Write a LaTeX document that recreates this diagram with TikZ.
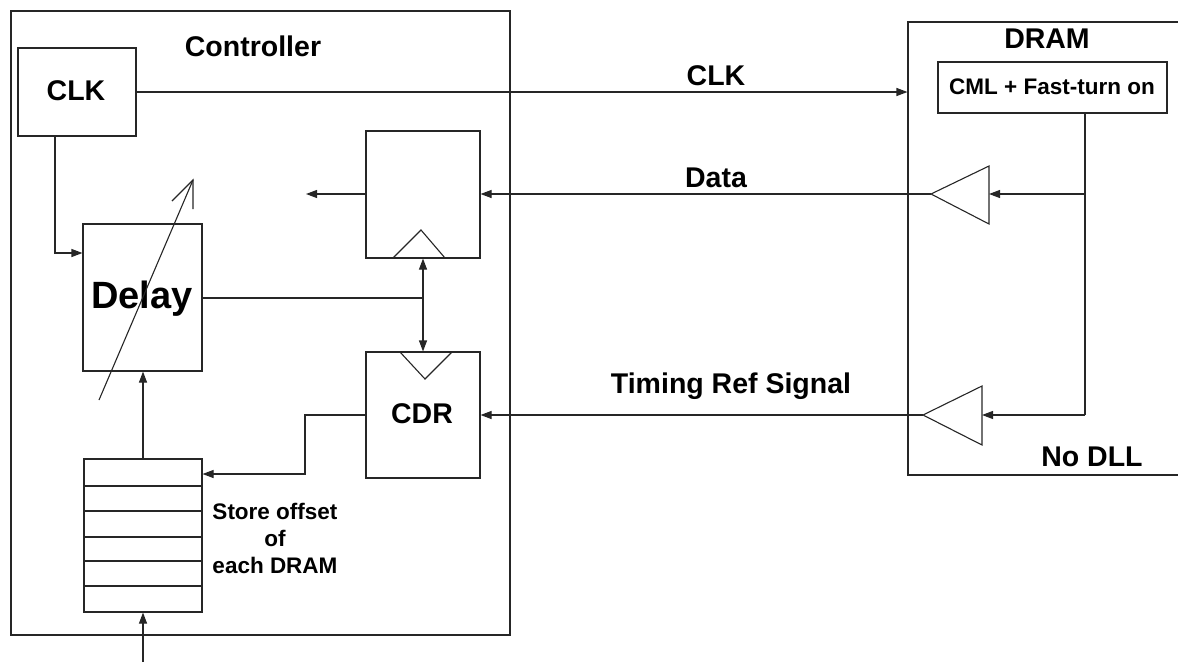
\documentclass[tikz,border=0pt]{standalone}
\usepackage{fontspec}
\setmainfont{Liberation Sans}
\usetikzlibrary{arrows.meta,calc}
\begin{document}
\begin{tikzpicture}[x=1pt,y=-1pt,
  line width=1.1pt, color=black!85,
  blk/.style={draw, rectangle, inner sep=0pt},
  wire/.style={draw},
  arr/.style={draw, -{Triangle[length=11pt,width=8pt]}},
  big/.style={font=\fontsize{28.5}{32}\selectfont\bfseries, text=black, inner sep=0pt, anchor=base},
  mid/.style={font=\fontsize{22.5}{27}\selectfont\bfseries, text=black, inner sep=0pt, anchor=base, align=center},
]
\useasboundingbox (0,0) rectangle (1178,662);
\clip (0,0) rectangle (1178,662);

% --- blocks of the controller ---
\node[blk, minimum width=499pt, minimum height=624pt] (ctrl) at (260.5,323) {};
\node[blk, minimum width=118pt, minimum height=88pt] (clk) at (77,92) {};
\node[blk, minimum width=114pt, minimum height=127pt] (ff) at (423,194.5) {};
\node[blk, minimum width=119pt, minimum height=147pt] (delay) at (142.5,297.5) {};
\node[blk, minimum width=114pt, minimum height=126pt] (cdr) at (423,415) {};
\node[blk, minimum width=118pt, minimum height=153pt] (stack) at (143,535.5) {};

% --- blocks of the DRAM ---
\node[blk, minimum width=290pt, minimum height=453pt] (dram) at (1053,248.5) {};
\node[blk, minimum width=229pt, minimum height=51pt] (cml) at (1052.5,87.5) {};

% --- labels ---
\node[big] (tctrl) at (253,56) {Controller};
\node[big] (tclk) at (76,100) {CLK};
\node[big] (tclkw) at (716,85) {CLK};
\node[big] (tdata) at (716,187) {Data};
\node[big] (ttim) at (731,393) {Timing Ref Signal};
\node[big] (tdram) at (1047,48) {DRAM};
\node[mid] (tcml) at (1052,94) {CML + Fast-turn on};
\node[big] (tnodll) at (1092,466) {No DLL};
\node[big, font=\fontsize{38}{42}\selectfont\bfseries] (tdelay) at (142,308) {Delay};
\node[big] (tcdr) at (422,423) {CDR};
\node[mid] (tstore) at (275,573) {Store offset\\of\\each DRAM};

% --- register rows ---
\foreach \yy in {486,511,537,561,586}
  \draw (stack.west |- 0,\yy) -- (stack.east |- 0,\yy);

% --- clock inputs of flip-flop and CDR ---
\draw (393,258) -- (421,230) -- (445,258);
\draw (400,352) -- (425,379) -- (452,352);

% --- buffers in the DRAM ---
\coordinate (dbin) at (989,194);
\coordinate (dbout) at (931,194);
\coordinate (tbin) at (982,415);
\coordinate (tbout) at (923,415);
\draw (dbout) -- (989,166) -- (989,224) -- cycle;
\draw (tbout) -- (982,386) -- (982,445) -- cycle;

% --- variable-delay arrow ---
\coordinate (vtail) at (99,400);
\coordinate (vtip) at (193,180);
\draw (vtail) -- (vtip);
\draw (172,201) -- (vtip) -- (193,209);

% --- connectors ---
\draw[arr] (clk.east) -- (dram.west |- clk.east);
\coordinate (tap) at (1085,113);
\coordinate (tapd) at (1085,194);
\coordinate (tapt) at (1085,415);
\draw[wire] (tap) -- (tapt);
\draw[arr] (tapt) -- (tbin);
\draw[arr] (tapd) -- (dbin);
\draw[arr] (dbout) -- (ff.east |- dbout);
\draw[arr] (tbout) -- (cdr.east |- tbout);

\coordinate (qout) at (306,194);
\draw[arr] (ff.west |- qout) -- (qout);

\coordinate (clkdn) at (55,136);
\draw[arr] (clkdn) -- (55,253) -- (delay.west |- 0,253);

\coordinate (dsplit) at (423,298);
\draw[wire] (delay.east |- dsplit) -- (dsplit);
\draw[arr] (dsplit) -- (ff.south);
\draw[arr] (dsplit) -- (cdr.north);

\draw[arr] (cdr.west) -- (305,415) -- (305,474) -- (stack.east |- 0,474);
\draw[arr] (stack.north) -- (stack.north |- delay.south);
\coordinate (regin) at (143,662);
\draw[arr] (regin) -- (stack.south);
\end{tikzpicture}
\end{document}
